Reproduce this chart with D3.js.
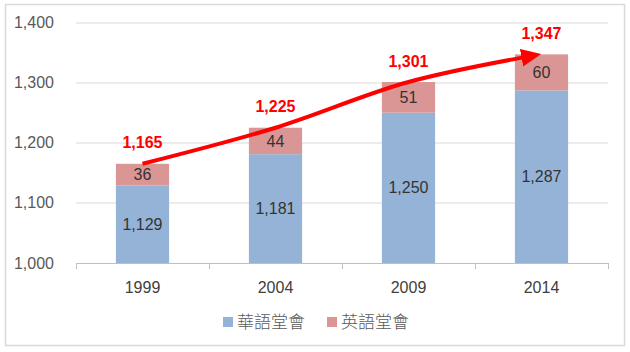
<html>
<head>
<meta charset="utf-8">
<script src="https://d3js.org/d3.v7.min.js"></script>
<style>
  body { margin: 0; background: #fff; }
  text { font-family: "Liberation Sans", Arial, sans-serif; }
  .cjk { font-family: "Noto Sans CJK TC", "Noto Sans CJK SC", sans-serif; }
</style>
</head>
<body>
<div id="viz"></div>
<script>
// data
const years    = ["1999", "2004", "2009", "2014"];
const chinese  = [1129, 1181, 1250, 1287];   // 華語堂會
const english  = [36, 44, 51, 60];           // 英語堂會
const yTicks   = [1000, 1100, 1200, 1300, 1400];
const seriesNames = ["華語堂會", "英語堂會"];
const seriesColors = ["#95B3D7", "#D99694"];

const width = 630, height = 352;
const margin = { top: 22.5, right: 22, bottom: 89, left: 76 };
const plotW = width - margin.left - margin.right,
      plotH = height - margin.top - margin.bottom;

const svg = d3.select("#viz").append("svg")
    .attr("width", width).attr("height", height);

// outer frame
svg.append("rect")
    .attr("x", 5.5).attr("y", 4.5).attr("width", 619).attr("height", 341)
    .attr("fill", "none").attr("stroke", "#d9d9d9").attr("stroke-width", 1.5);

const g = svg.append("g").attr("transform", `translate(${margin.left},${margin.top})`);

const x = d3.scaleBand().domain(years).range([0, plotW]).paddingInner(0.6).paddingOuter(0.3);
const y = d3.scaleLinear().domain([1000, 1400]).range([plotH, 0]);

// gridlines
g.selectAll(".grid").data(yTicks.slice(1)).join("line")
    .attr("x1", 0).attr("x2", plotW)
    .attr("y1", d => Math.round(y(d)) + 0.5).attr("y2", d => Math.round(y(d)) + 0.5)
    .attr("stroke", "#d9d9d9").attr("stroke-width", 1);

// y axis labels
g.selectAll(".ylab").data(yTicks).join("text")
    .attr("x", -22).attr("y", d => y(d)).attr("dy", "0.35em")
    .attr("text-anchor", "end")
    .style("font-size", "16px").style("fill", "#595959")
    .text(d3.format(","));

// stacked bars
const rows = years.map((yr, i) => ({ year: yr, chinese: chinese[i], english: english[i] }));
const layers = d3.stack().keys(["chinese", "english"])(rows);

layers.forEach((layer, li) => {
  g.selectAll(".bar" + li).data(layer).join("rect")
      .attr("x", d => x(d.data.year))
      .attr("width", x.bandwidth())
      .attr("y", d => y(d[1]))
      .attr("height", d => y(Math.max(d[0], 1000)) - y(d[1]))
      .attr("fill", seriesColors[li]);

  g.selectAll(".lab" + li).data(layer).join("text")
      .attr("x", d => x(d.data.year) + x.bandwidth() / 2)
      .attr("y", d => (y(Math.max(d[0], 1000)) + y(d[1])) / 2)
      .attr("dy", "0.35em")
      .attr("text-anchor", "middle")
      .style("font-size", "16px").style("fill", "#333")
      .text(d => d3.format(",")(d[1] - d[0]));
});

// x axis line and ticks
g.append("line")
    .attr("x1", 0).attr("x2", plotW).attr("y1", plotH + 0.5).attr("y2", plotH + 0.5)
    .attr("stroke", "#bfbfbf");
const step = x.step();
g.selectAll(".xtick").data(d3.range(years.length + 1)).join("line")
    .attr("x1", i => Math.round(i * step) + 0.5).attr("x2", i => Math.round(i * step) + 0.5)
    .attr("y1", plotH).attr("y2", plotH + 6)
    .attr("stroke", "#bfbfbf");
g.selectAll(".xlab").data(years).join("text")
    .attr("x", d => x(d) + x.bandwidth() / 2)
    .attr("y", plotH + 24).attr("dy", "0.35em")
    .attr("text-anchor", "middle")
    .style("font-size", "16px").style("fill", "#404040")
    .text(d => d);

// totals in red
const totals = rows.map(d => ({ year: d.year, total: d.chinese + d.english }));
g.selectAll(".tot").data(totals).join("text")
    .attr("x", d => x(d.year) + x.bandwidth() / 2)
    .attr("y", d => y(d.total) - 21).attr("dy", "0.35em")
    .attr("text-anchor", "middle")
    .style("font-size", "16px").style("font-weight", "bold").style("fill", "#ff0000")
    .text(d => d3.format(",")(d.total));

// trend arrow through the totals
svg.append("defs").append("marker")
    .attr("id", "head").attr("markerUnits", "userSpaceOnUse")
    .attr("viewBox", "0 0 20 18").attr("refX", 2).attr("refY", 9)
    .attr("markerWidth", 20).attr("markerHeight", 18).attr("orient", "auto")
    .append("path").attr("d", "M0,0 L20,9 L0,18 Z").attr("fill", "#ff0000");

const pts = totals.map(d => [x(d.year) + x.bandwidth() / 2, y(d.total)]);
pts[pts.length - 1][0] -= 18;
pts[pts.length - 1][1] += 3;
g.append("path")
    .attr("d", d3.line().curve(d3.curveMonotoneX)(pts))
    .attr("fill", "none").attr("stroke", "#ff0000").attr("stroke-width", 4)
    .attr("marker-end", "url(#head)");

// legend
const legend = svg.append("g").attr("transform", "translate(223,322)");
const legX = [0, 104];
seriesNames.forEach((name, i) => {
  legend.append("rect").attr("x", legX[i]).attr("y", -5).attr("width", 10).attr("height", 10)
      .attr("fill", seriesColors[i]);
  legend.append("text").attr("class", "cjk")
      .attr("x", legX[i] + 14).attr("y", 0).attr("dy", "0.36em")
      .style("font-size", "17px").style("fill", "#595959").style("font-weight", 300)
      .text(name);
});
</script>
</body>
</html>
